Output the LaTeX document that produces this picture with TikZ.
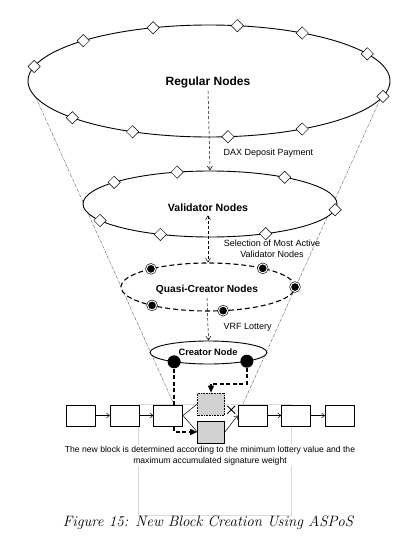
\documentclass[tikz,border=0pt]{standalone}
\usepackage{fontspec}
\setsansfont{Liberation Sans}
\usetikzlibrary{shapes.geometric, shapes.misc, arrows.meta, positioning, calc, backgrounds}

\begin{document}
\begin{tikzpicture}[x=1pt, y=-1pt,
  tier/.style={ellipse, draw, line width=0.9pt, fill=white, inner sep=0pt},
  title/.style={font=\sffamily\bfseries\fontsize{12}{14}\selectfont},
  note/.style={font=\sffamily\fontsize{9}{10.5}\selectfont, align=center},
  regnode/.style={diamond, draw, fill=white, line width=0.5pt, minimum size=12.5pt, inner sep=0pt},
  valnode/.style={regnode, path picture={\fill (path picture bounding box.center) circle (0.6pt);}},
  quasinode/.style={circle, fill=black, draw=black, double=white, double distance=1pt, line width=0.6pt, minimum size=9pt, inner sep=0pt},
  creatnode/.style={circle, fill=black, minimum size=13pt, inner sep=0pt},
  block/.style={rectangle, draw, line width=0.6pt, fill=white, minimum width=29pt, minimum height=21pt, inner sep=0pt},
  candblock/.style={block, fill=gray!35, minimum width=27pt, minimum height=22pt},
  blockarrow/.style={-{Straight Barb[length=3pt, width=5pt]}, line width=0.5pt},
  flow/.style={line width=0.5pt, dash pattern=on 3pt off 2pt, -{Straight Barb[length=4pt, width=5pt]}},
  pick/.style={line width=1.4pt, dash pattern=on 4pt off 2.5pt, -{Triangle[length=7pt, width=6pt]}},
  funnel/.style={line width=0.4pt, gray!70!black, dash pattern=on 3pt off 1pt on 0.6pt off 1pt}
]
  \useasboundingbox (0,0) rectangle (417,554);

  % the four tiers of nodes
  \node[tier, minimum width=362pt, minimum height=112pt] (regular) at (209,81) {};
  \node[tier, minimum width=254pt, minimum height=66pt] (validator) at (210,204) {};
  \node[tier, dash pattern=on 5pt off 3pt, line width=1.1pt, minimum width=174pt, minimum height=48pt] (quasi) at (208,287) {};
  \node[tier, minimum width=117pt, minimum height=23pt] (creator) at (208.5,352.5) {};

  \node[title] (reglbl) at (208,82) {Regular Nodes};
  \node[title, font=\sffamily\bfseries\fontsize{10.6}{12}\selectfont] (vallbl) at (208,208) {Validator Nodes};
  \node[title, font=\sffamily\bfseries\fontsize{10.2}{12}\selectfont] (quasilbl) at (207,290) {Quasi-Creator Nodes};
  \node[title, font=\sffamily\bfseries\fontsize{9.3}{11}\selectfont] (creatlbl) at (208,352) {Creator Node};

  % members on each tier
  \foreach \a in {-165,-134,-108,-81,-59,-29,16,59,84,115,139}
    \node[regnode] at ($(regular.center)+(\a:181 and 56)$) {};
  \foreach \a in {-139,-105,-54,10,64,113,150}
    \node[valnode] at ($(validator.center)+(\a:127 and 33)$) {};
  \foreach \a in {-131,-51,0,80,130}
    \node[quasinode] at ($(quasi.center)+(\a:87 and 24)$) {};
  \node[creatnode] (cl) at ($(creator.center)+(126:58.5 and 11.5)$) {};
  \node[creatnode] (cr) at ($(creator.center)+(49:58.5 and 11.5)$) {};

  % steps between tiers
  \draw[flow] (reglbl.south) -- (validator.north);
  \node[note, anchor=west] (dax) at (220,153) {DAX Deposit Payment};
  \draw[flow, {Straight Barb[length=4pt, width=5pt]}-{Straight Barb[length=4pt, width=5pt]}] (vallbl.south) -- (quasi.north);
  \node[note] (select) at (272,249) {Selection of Most Active\\Validator Nodes};
  \draw[flow] (quasilbl.south) -- (creator.north);
  \node[note, anchor=west] (vrf) at (220,327) {VRF Lottery};

  % block chain
  \node[block] (b1) at (81,415.5) {};
  \node[block, right=14pt of b1] (b2) {};
  \node[block, right=14pt of b2] (b3) {};
  \node[block] (b4) at (252.5,415.5) {};
  \node[block, right=14pt of b4] (b5) {};
  \node[block, right=14pt of b5] (b6) {};
  \node[candblock, densely dotted] (cand) at (211,404) {};
  \node[candblock] (newblk) at (211,432) {};

  \draw[blockarrow] (b1) -- (b2);
  \draw[blockarrow] (b2) -- (b3);
  \draw[blockarrow] (b4) -- (b5);
  \draw[blockarrow] (b5) -- (b6);
  \draw[line width=0.5pt] (b3.east) -- (cand.west);
  \draw[line width=0.5pt] (b3.east) -- (newblk.west);
  \draw[blockarrow] (newblk.east) -- (b4.west);
  \node[cross out, draw, line width=0.8pt, minimum size=7pt, inner sep=0pt] (reject) at ($(cand.east)!0.5!(b4.west)$) {};

  \begin{scope}[on background layer]
    \draw[gray!30, line width=0.4pt] (138,404) rectangle (291,515);
    \draw[funnel] ($(regular.center)+(163:181 and 56)$) -- (cl |- b3.north);
    \draw[funnel] ($(regular.center)+(19:181 and 56)$) -- ($(b4.north west)+(5,0)$);
    \draw[pick] (cl.south) |- (newblk.west);
    \draw[pick] (cr.south) -- ++(0,16) -| (cand.north);
  \end{scope}

  \node[note, font=\sffamily\fontsize{8.6}{10.7}\selectfont, fill=white, inner sep=1pt] (rule) at (210,455.5)
    {The new block is determined according to the minimum lottery value and the\\maximum accumulated signature weight};

  \node[font=\itshape\fontsize{15}{18}\selectfont] (caption) at (208,523) {Figure 15: New Block Creation Using ASPoS};
\end{tikzpicture}
\end{document}
